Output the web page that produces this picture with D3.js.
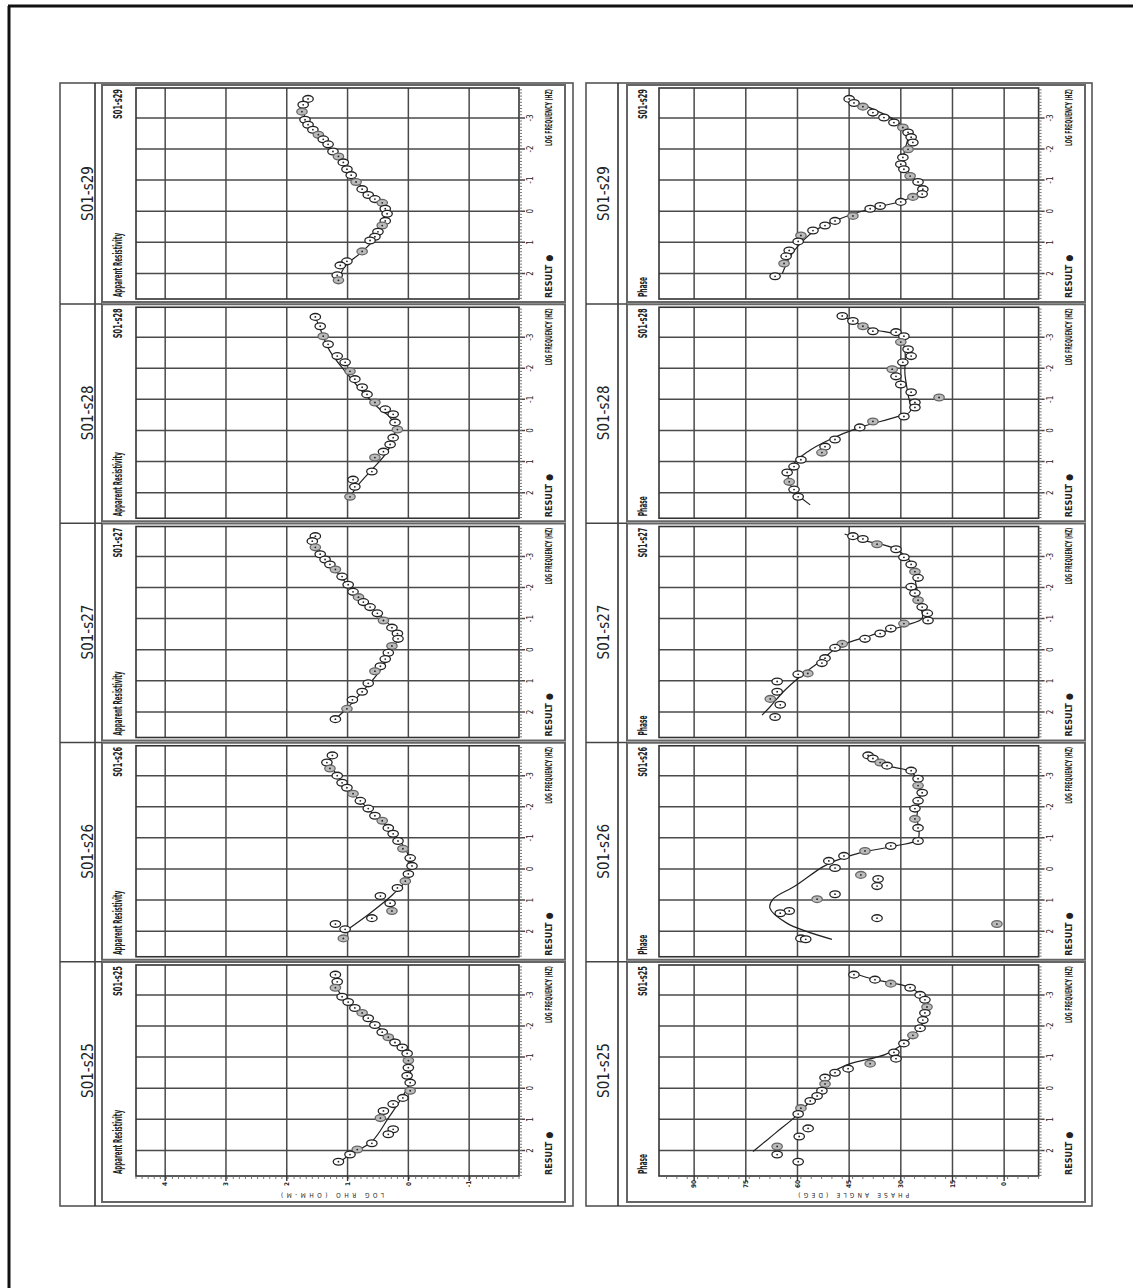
<!DOCTYPE html>
<html>
<head>
<meta charset="utf-8">
<script src="https://cdn.jsdelivr.net/npm/d3@7"></script>
<style>
  body { margin: 0; background: #fff; }
  text { font-family: "Liberation Sans Narrow", "DejaVu Sans Condensed", "Liberation Sans", sans-serif; fill: #222; }
</style>
</head>
<body>
<svg id="chart" width="1133" height="1288"></svg>
<script>
// stations, left to right once the sheet is turned upright
var stations = ["S01-s25", "S01-s26", "S01-s27", "S01-s28", "S01-s29"];
var freqTicks = [2, 1, 0, -1, -2, -3];
var rhoTicks = [4, 3, 2, 1, 0, -1];
var phaseTicks = [90, 75, 60, 45, 30, 15, 0];

// [log frequency, log rho] observed
var rhoObs25 = [[-3.65,1.20],[-3.42,1.17],[-3.23,1.20],[-2.94,1.09],[-2.77,0.99],[-2.58,0.88],[-2.42,0.76],[-2.25,0.66],[-2.03,0.55],[-1.80,0.43],[-1.64,0.33],[-1.47,0.22],[-1.31,0.10],[-1.12,0.02],[-0.89,0.00],[-0.66,0.00],[-0.40,0.02],[-0.18,-0.03],[0.08,-0.03],[0.31,0.09],[0.51,0.25],[0.73,0.41],[0.96,0.46],[1.32,0.25],[1.48,0.33],[1.77,0.60],[1.97,0.84],[2.13,0.96],[2.36,1.15]];
var rhoObs26 = [[-3.65,1.25],[-3.42,1.34],[-3.23,1.29],[-3.00,1.17],[-2.77,1.09],[-2.61,1.01],[-2.42,0.91],[-2.19,0.79],[-1.94,0.66],[-1.71,0.55],[-1.55,0.43],[-1.32,0.33],[-1.13,0.25],[-0.90,0.17],[-0.65,0.09],[-0.35,-0.03],[-0.10,-0.06],[0.16,0.00],[0.39,0.05],[0.61,0.18],[0.87,0.46],[1.10,0.30],[1.35,0.27],[1.58,0.60],[1.77,1.20],[1.94,1.04],[2.23,1.07]];
var rhoObs27 = [[-3.65,1.53],[-3.49,1.58],[-3.29,1.53],[-3.07,1.45],[-2.90,1.37],[-2.74,1.29],[-2.58,1.20],[-2.35,1.09],[-2.09,0.99],[-1.86,0.91],[-1.69,0.82],[-1.53,0.74],[-1.37,0.63],[-1.17,0.51],[-0.94,0.41],[-0.71,0.27],[-0.52,0.18],[-0.35,0.17],[-0.12,0.27],[0.10,0.33],[0.30,0.38],[0.53,0.46],[0.69,0.55],[1.08,0.66],[1.35,0.76],[1.61,0.92],[1.90,1.01],[2.23,1.20]];
var rhoObs28 = [[-3.65,1.53],[-3.35,1.45],[-3.03,1.40],[-2.77,1.32],[-2.39,1.17],[-2.19,1.04],[-1.90,0.96],[-1.65,0.88],[-1.39,0.76],[-1.16,0.68],[-0.90,0.55],[-0.68,0.38],[-0.52,0.25],[-0.26,0.22],[-0.03,0.18],[0.23,0.25],[0.45,0.30],[0.68,0.41],[0.87,0.55],[1.32,0.60],[1.58,0.91],[1.81,0.88],[2.13,0.96]];
var rhoObs29 = [[-3.61,1.65],[-3.42,1.73],[-3.20,1.75],[-2.94,1.70],[-2.78,1.65],[-2.62,1.57],[-2.46,1.48],[-2.31,1.40],[-2.15,1.32],[-1.92,1.24],[-1.76,1.15],[-1.57,1.07],[-1.35,1.01],[-1.16,0.94],[-0.94,0.86],[-0.71,0.76],[-0.52,0.66],[-0.39,0.55],[-0.27,0.43],[-0.08,0.38],[0.08,0.35],[0.31,0.38],[0.46,0.43],[0.66,0.50],[0.82,0.55],[0.94,0.63],[1.29,0.76],[1.61,1.01],[1.74,1.12],[2.06,1.17],[2.22,1.15]];

// [log frequency, log rho] model response
var rhoFit25 = [[2.36,1.12],[2.13,0.96],[1.71,0.60],[0.96,0.33],[0.25,0.09],[-0.24,-0.03],[-0.89,-0.01],[-1.28,0.07],[-1.64,0.27],[-2.03,0.55],[-2.58,0.88],[-2.94,1.09],[-3.32,1.19],[-3.65,1.22]];
var rhoFit26 = [[2.00,1.04],[1.42,0.63],[0.81,0.25],[0.39,0.05],[-0.10,-0.03],[-0.58,0.03],[-0.97,0.17],[-1.32,0.33],[-1.71,0.55],[-2.19,0.79],[-2.68,1.04],[-3.23,1.24],[-3.58,1.29]];
var rhoFit27 = [[2.23,1.20],[1.84,0.99],[1.35,0.76],[0.76,0.50],[0.04,0.27],[-0.39,0.18],[-0.71,0.27],[-1.17,0.50],[-1.59,0.76],[-2.18,1.04],[-2.84,1.32],[-3.39,1.53],[-3.62,1.58]];
var rhoFit28 = [[2.13,0.96],[1.74,0.82],[1.26,0.60],[0.77,0.38],[0.29,0.25],[-0.10,0.22],[-0.42,0.30],[-0.74,0.50],[-1.26,0.76],[-1.90,1.04],[-2.55,1.29],[-3.26,1.45],[-3.65,1.53]];
var rhoFit29 = [[2.22,1.15],[1.76,1.04],[1.35,0.79],[0.88,0.55],[0.31,0.38],[-0.08,0.36],[-0.39,0.50],[-0.78,0.76],[-1.29,0.99],[-1.83,1.20],[-2.46,1.48],[-3.01,1.70],[-3.58,1.73]];

// [log frequency, phase in degrees] observed
var phObs25 = [[-3.65,43.6],[-3.49,37.5],[-3.36,32.9],[-3.23,27.3],[-3.00,24.4],[-2.84,23.0],[-2.61,22.4],[-2.42,23.0],[-2.19,23.6],[-1.93,24.4],[-1.70,26.5],[-1.44,29.1],[-1.15,32.0],[-0.95,31.4],[-0.79,38.9],[-0.63,45.3],[-0.50,49.1],[-0.34,52.0],[-0.14,52.0],[0.08,52.9],[0.25,54.3],[0.41,56.3],[0.64,59.0],[0.83,59.8],[1.29,56.9],[1.55,59.5],[1.87,65.9],[2.13,65.9],[2.36,59.8]];
var phObs26 = [[-3.65,39.5],[-3.55,38.1],[-3.42,36.0],[-3.32,34.0],[-3.16,27.0],[-2.90,25.0],[-2.68,25.0],[-2.45,23.8],[-2.19,25.0],[-1.94,25.9],[-1.61,25.9],[-1.32,25.0],[-0.90,25.0],[-0.74,32.9],[-0.58,40.4],[-0.42,46.5],[-0.26,50.9],[-0.03,49.1],[0.19,41.6],[0.32,36.6],[0.55,36.9],[0.81,49.1],[0.97,54.3],[1.35,62.4],[1.42,65.0],[1.58,36.9],[1.77,2.1],[2.23,59.0],[2.26,57.6]];
var phObs27 = [[-3.65,43.9],[-3.56,41.0],[-3.39,36.9],[-3.23,31.4],[-2.97,29.1],[-2.74,27.0],[-2.51,25.9],[-2.31,25.0],[-2.02,27.0],[-1.82,25.9],[-1.59,25.0],[-1.37,23.8],[-1.17,22.3],[-0.94,22.1],[-0.84,29.1],[-0.68,32.9],[-0.52,36.0],[-0.35,40.4],[-0.19,47.0],[-0.06,49.1],[0.27,52.0],[0.43,52.9],[0.76,57.0],[0.79,59.8],[1.02,65.9],[1.35,65.9],[1.58,67.9],[1.77,65.0],[2.16,66.5]];
var phObs28 = [[-3.68,47.0],[-3.52,43.9],[-3.35,41.0],[-3.19,38.1],[-3.16,31.4],[-3.03,29.1],[-2.84,30.0],[-2.61,27.9],[-2.39,27.0],[-2.19,29.4],[-1.97,32.5],[-1.74,31.4],[-1.48,30.0],[-1.23,27.0],[-1.06,18.9],[-0.90,25.9],[-0.74,25.9],[-0.45,29.1],[-0.29,38.1],[-0.10,41.9],[0.29,49.1],[0.52,52.0],[0.71,52.9],[0.94,59.0],[1.16,61.0],[1.35,63.0],[1.65,62.4],[1.90,61.0],[2.13,59.8]];
var phObs29 = [[-3.61,45.0],[-3.48,43.6],[-3.36,41.0],[-3.17,38.1],[-3.01,34.9],[-2.85,32.0],[-2.69,29.4],[-2.53,27.9],[-2.38,27.0],[-2.21,26.5],[-1.99,27.9],[-1.73,29.4],[-1.51,30.0],[-1.35,29.1],[-1.13,27.3],[-0.94,25.0],[-0.71,23.6],[-0.55,23.8],[-0.46,26.5],[-0.30,30.0],[-0.17,36.0],[-0.08,38.9],[0.15,43.9],[0.31,49.1],[0.46,52.0],[0.62,55.5],[0.78,59.0],[0.97,59.8],[1.26,62.4],[1.45,63.3],[1.68,63.9],[2.09,66.5]];

// [log frequency, phase in degrees] model response
var phFit25 = [[-3.68,43.4],[-3.49,37.5],[-3.23,27.3],[-2.84,23.0],[-2.35,22.7],[-1.86,25.0],[-1.47,28.8],[-1.08,34.6],[-0.79,44.7],[-0.50,49.9],[-0.08,52.8],[0.34,55.8],[0.83,59.8],[1.45,66.5],[2.03,72.9]];
var phFit26 = [[-3.65,39.5],[-3.32,34.0],[-3.10,26.7],[-2.52,24.4],[-1.71,25.3],[-0.97,25.0],[-0.74,31.7],[-0.52,41.9],[-0.26,49.1],[-0.06,52.8],[0.55,60.7],[0.97,67.1],[1.26,68.0],[1.74,63.1],[2.26,50.0]];
var phFit27 = [[-3.72,46.3],[-3.52,41.0],[-3.23,31.4],[-2.74,26.7],[-2.09,25.6],[-1.43,24.4],[-1.01,23.8],[-0.78,28.8],[-0.45,38.9],[-0.09,48.2],[0.37,53.4],[0.86,59.2],[1.35,64.1],[1.84,68.0],[2.10,70.3]];
var phFit28 = [[-3.68,47.0],[-3.26,38.4],[-3.03,30.3],[-2.55,28.8],[-1.81,28.8],[-1.16,27.9],[-0.61,27.3],[-0.42,31.7],[-0.10,41.9],[0.29,50.6],[0.68,57.0],[1.10,61.3],[1.58,62.7],[1.97,60.7],[2.39,56.3]];
var phFit29 = [[-3.58,45.0],[-3.32,38.9],[-2.88,31.1],[-2.46,27.9],[-1.99,28.8],[-1.51,29.4],[-1.03,25.9],[-0.65,24.4],[-0.36,28.8],[-0.08,38.9],[0.24,47.6],[0.62,54.9],[1.04,59.2],[1.45,62.1],[2.00,64.4]];

var PAGE_H = 1288;
var svg = d3.select("#chart");

// page border of the scanned sheet
svg.append("line").attr("x1", 9).attr("y1", 6).attr("x2", 9).attr("y2", PAGE_H)
  .attr("stroke", "#111").attr("stroke-width", 3);
svg.append("line").attr("x1", 8).attr("y1", 6).attr("x2", 1133).attr("y2", 6)
  .attr("stroke", "#111").attr("stroke-width", 3);

// the figure is printed sideways: draw it upright and turn it
var g = svg.append("g").attr("transform", "translate(0," + PAGE_H + ") rotate(-90)");

var rows = [
  { out0: 60, hdr: 95, box0: 102, box1: 565, out1: 573, p0: 136, p1: 519,
    dom: [4.48, -1.82], ticks: rhoTicks, minor: 0.1, title: "Apparent Resistivity", titleLen: 64,
    axisTitle: "LOG RHO (OHM-M)", axisLen: 103, hdrBase: 93,
    obs: [rhoObs25, rhoObs26, rhoObs27, rhoObs28, rhoObs29],
    fit: [rhoFit25, rhoFit26, rhoFit27, rhoFit28, rhoFit29] },
  { out0: 586, hdr: 618, box0: 627, box1: 1085, out1: 1092, p0: 659, p1: 1038.6,
    dom: [100.2, -10], ticks: phaseTicks, minor: 3, title: "Phase", titleLen: 20,
    axisTitle: "PHASE ANGLE (DEG)", axisLen: 111, hdrBase: 609,
    obs: [phObs25, phObs26, phObs27, phObs28, phObs29],
    fit: [phFit25, phFit26, phFit27, phFit28, phFit29] }
];

var U_FIRST = 112, PITCH = 219.25, PW = 211;
var uTop = 1205, uBot = 82;

rows.forEach(function(row) {
  var y = d3.scaleLinear().domain(row.dom).range([row.p0, row.p1]);

  // outer frame and station header strip
  g.append("rect").attr("x", uBot).attr("y", row.out0)
    .attr("width", uTop - uBot).attr("height", row.out1 - row.out0)
    .attr("fill", "none").attr("stroke", "#555").attr("stroke-width", 1.6);
  g.append("line").attr("x1", uBot).attr("x2", uTop).attr("y1", row.hdr).attr("y2", row.hdr)
    .attr("stroke", "#333").attr("stroke-width", 1.6);

  stations.forEach(function(st, i) {
    var u0 = U_FIRST + i * PITCH, u1 = u0 + PW;
    var x = d3.scaleLinear().domain([2.82, -3.96]).range([u0, u1]);
    var pg = g.append("g");

    // header divider + label
    if (i > 0) {
      pg.append("line").attr("x1", u0 - 5).attr("x2", u0 - 5).attr("y1", row.out0).attr("y2", row.box0)
        .attr("stroke", "#444").attr("stroke-width", 1.6);
    }
    pg.append("text").attr("x", (u0 + u1) / 2).attr("y", row.hdrBase)
      .attr("text-anchor", "middle").attr("font-size", 15).attr("fill", "#333").text(st);

    // panel frame
    var bx0 = i === 0 ? 86 : u0 - 3;
    pg.append("rect").attr("x", bx0).attr("y", row.box0)
      .attr("width", u1 + 3 - bx0).attr("height", row.box1 - row.box0)
      .attr("fill", "none").attr("stroke", "#666").attr("stroke-width", 2);

    // grid
    pg.append("g").selectAll("line").data(row.ticks).enter().append("line")
      .attr("x1", u0).attr("x2", u1)
      .attr("y1", function(d) { return y(d); }).attr("y2", function(d) { return y(d); })
      .attr("stroke", "#4a4a4a").attr("stroke-width", 1.5);
    pg.append("g").selectAll("line").data(freqTicks).enter().append("line")
      .attr("x1", function(d) { return x(d); }).attr("x2", function(d) { return x(d); })
      .attr("y1", row.p0).attr("y2", row.p1 + 6)
      .attr("stroke", "#4a4a4a").attr("stroke-width", 1.5);
    pg.append("rect").attr("x", u0).attr("y", row.p0).attr("width", PW).attr("height", row.p1 - row.p0)
      .attr("fill", "none").attr("stroke", "#333").attr("stroke-width", 1.6);

    // frequency axis minor ticks
    var fMinor = d3.range(-39, 29).map(function(k) { return k / 10; });
    pg.append("g").selectAll("line").data(fMinor).enter().append("line")
      .attr("x1", function(d) { return x(d); }).attr("x2", function(d) { return x(d); })
      .attr("y1", row.p1).attr("y2", row.p1 + 3)
      .attr("stroke", "#666").attr("stroke-width", 0.9);
    pg.append("g").selectAll("text").data(freqTicks).enter().append("text")
      .attr("x", function(d) { return x(d); }).attr("y", row.p1 + 14)
      .attr("text-anchor", "middle").attr("font-size", 8).text(function(d) { return d; });
    pg.append("text").attr("x", u1 - 1).attr("y", row.p1 + 33)
      .attr("text-anchor", "end").attr("font-size", 8.5).attr("font-weight", "bold")
      .attr("textLength", 57).attr("lengthAdjust", "spacingAndGlyphs")
      .text("LOG FREQUENCY (HZ)");
    pg.append("text").attr("x", u0 + 1).attr("y", row.p1 + 33)
      .attr("font-size", 9).attr("font-weight", "bold").text("RESULT \u25cf");

    // titles
    pg.append("text").attr("x", u0 + 2).attr("y", row.box0 + 20)
      .attr("font-size", 13).attr("font-weight", "bold")
      .attr("textLength", row.titleLen).attr("lengthAdjust", "spacingAndGlyphs")
      .text(row.title);
    pg.append("text").attr("x", u1 - 1).attr("y", row.box0 + 20)
      .attr("text-anchor", "end").attr("font-size", 13).attr("font-weight", "bold")
      .attr("textLength", 30).attr("lengthAdjust", "spacingAndGlyphs")
      .text(st);

    // value axis on first panel only
    if (i === 0) {
      var vMinor = d3.range(row.dom[1], row.dom[0], row.minor);
      pg.append("g").selectAll("line").data(vMinor).enter().append("line")
        .attr("x1", u0).attr("x2", u0 - 3)
        .attr("y1", function(d) { return y(d); }).attr("y2", function(d) { return y(d); })
        .attr("stroke", "#666").attr("stroke-width", 0.9);
      pg.append("g").selectAll("line").data(row.ticks).enter().append("line")
        .attr("x1", u0).attr("x2", u0 - 5)
        .attr("y1", function(d) { return y(d); }).attr("y2", function(d) { return y(d); })
        .attr("stroke", "#333").attr("stroke-width", 1.4);
      pg.append("g").selectAll("text").data(row.ticks).enter().append("text")
        .attr("x", u0 - 8).attr("y", function(d) { return y(d); })
        .attr("dy", "0.35em").attr("text-anchor", "middle").attr("font-size", 6.5).attr("font-weight", "bold")
        .text(function(d) { return d; });
      pg.append("text").attr("transform", "translate(" + (u0 - 17) + "," + ((row.p0 + row.p1) / 2 + 5) + ") rotate(-90)")
        .attr("text-anchor", "middle").attr("font-size", 6.5)
        .attr("textLength", row.axisLen).attr("lengthAdjust", "spacing")
        .attr("font-family", "DejaVu Sans Mono, monospace")
        .text(row.axisTitle);
    }

    // model curve
    var fitPts = row.fit[i].slice().sort(function(a, b) { return b[0] - a[0]; });
    pg.append("path").datum(fitPts)
      .attr("fill", "none").attr("stroke", "#222").attr("stroke-width", 1.2)
      .attr("d", d3.line().x(function(d) { return x(d[0]); }).y(function(d) { return y(d[1]); })
        .curve(d3.curveCatmullRom));

    // observed points
    var pts = pg.append("g").selectAll("g").data(row.obs[i]).enter().append("g");
    pts.append("ellipse")
      .attr("cx", function(d) { return x(d[0]); }).attr("cy", function(d) { return y(d[1]); })
      .attr("rx", 3.4).attr("ry", 5.2)
      .attr("fill", function(d, k) { return k % 4 === 2 ? "#bbb" : "#fff"; })
      .attr("stroke", function(d, k) { return k % 4 === 2 ? "#666" : "#222"; })
      .attr("stroke-width", 1.3);
    pts.append("circle")
      .attr("cx", function(d) { return x(d[0]); }).attr("cy", function(d) { return y(d[1]); })
      .attr("r", 0.9).attr("fill", "#222");
  });
});
</script>
</body>
</html>
